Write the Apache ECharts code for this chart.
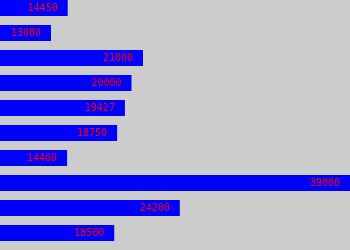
<!DOCTYPE html>
<html><head><meta charset="utf-8">
<script src="https://cdn.jsdelivr.net/npm/echarts@6/dist/echarts.min.js"></script>
<style>html,body{margin:0;padding:0;background:#cccccc}#c{width:350px;height:250px}</style>
</head><body><div id="c"></div>
<script>
var categories = ['a','b','c','d','e','f','g','h','i','j'];
var values = [14450, 13000, 21000, 20000, 19427, 18750, 14400, 39000, 24200, 18500];
var axisMin = 8565;
var axisMax = 39000;
var chart = echarts.init(document.getElementById('c'), null, {renderer:'canvas'});
chart.setOption({
  backgroundColor: '#cccccc',
  animation: false,
  grid: {left: 0, right: 0, top: 8, bottom: 17},
  xAxis: {type: 'value', min: axisMin, max: axisMax, show: false},
  yAxis: {type: 'category', data: categories, inverse: true, show: false, boundaryGap: false},
  series: [{
    type: 'bar',
    data: values,
    barWidth: 16,
    itemStyle: {color: '#0000ff'},
    label: {
      show: true,
      position: 'insideRight',
      distance: 10,
      color: '#ff0000',
      fontFamily: 'DejaVu Sans Mono',
      fontSize: 10
    }
  }]
});
</script></body></html>
